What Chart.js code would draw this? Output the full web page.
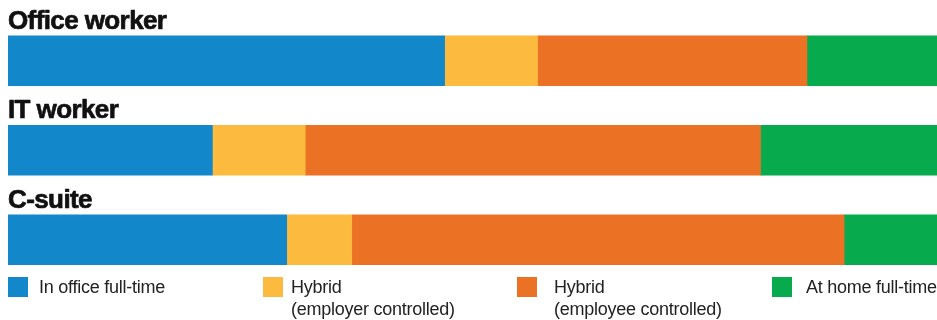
<!DOCTYPE html>
<html>
<head>
<meta charset="utf-8">
<script src="https://cdn.jsdelivr.net/npm/chart.js@4/dist/chart.umd.min.js"></script>
<style>
  html, body { margin: 0; padding: 0; background: #fff; }
  #wrap { position: relative; width: 937px; height: 320px; overflow: hidden; }
  #c { position: absolute; left: 0; top: 0; }
  .sw { position: absolute; top: 277px; width: 20px; height: 20px; }
  .tx { position: absolute; top: 276px; white-space: nowrap; font-family: "Liberation Sans", Arial, sans-serif; font-size: 18px; line-height: 22px; color: #222; letter-spacing: -0.25px; }
</style>
</head>
<body>
<div id="wrap">
  <canvas id="c" width="937" height="320"></canvas>
  <div id="legend"></div>
</div>
<script>
const categories = ["Office worker", "IT worker", "C-suite"];
const seriesNames = [["In office full-time"], ["Hybrid", "(employer controlled)"], ["Hybrid", "(employee controlled)"], ["At home full-time"]];
const inOffice = [47, 22, 30];
const hybridEmployer = [10, 10, 7];
const hybridEmployee = [29, 49, 53];
const atHome = [14, 19, 10];
const colors = ["#1288CB", "#FCBA3E", "#EB7124", "#07AA4C"];
const swatchLefts = [8, 263, 517, 772];
const textLefts = [39, 291, 554, 806];

const seriesValues = [inOffice, hybridEmployer, hybridEmployee, atHome];

const titlePlugin = {
  id: 'barTitles',
  afterDatasetsDraw(chart) {
    const ctx = chart.ctx;
    const meta = chart.getDatasetMeta(0);
    ctx.save();
    ctx.font = 'bold 26px "Liberation Sans", Arial, sans-serif';
    ctx.fillStyle = '#111';
    ctx.strokeStyle = '#111';
    ctx.lineWidth = 0.7;
    ctx.lineJoin = 'round';
    ctx.textBaseline = 'alphabetic';
    ctx.textAlign = 'left';
    if ('letterSpacing' in ctx) ctx.letterSpacing = '-0.6px';
    meta.data.forEach((bar, i) => {
      const top = bar.y - bar.height / 2;
      ctx.fillText(categories[i], chart.chartArea.left, top - 7);
      ctx.strokeText(categories[i], chart.chartArea.left, top - 7);
    });
    ctx.restore();
  }
};

new Chart(document.getElementById('c'), {
  type: 'bar',
  data: {
    labels: categories,
    datasets: seriesValues.map((vals, i) => ({
      label: seriesNames[i].join(' '),
      data: vals,
      backgroundColor: colors[i],
      borderWidth: 0,
      barThickness: 50
    }))
  },
  options: {
    indexAxis: 'y',
    responsive: false,
    animation: false,
    layout: { padding: { left: 8, right: 0, top: 16, bottom: 35.5 } },
    scales: {
      x: { stacked: true, min: 0, max: 100, display: false },
      y: { stacked: true, display: false }
    },
    plugins: {
      legend: { display: false },
      tooltip: { enabled: false }
    }
  },
  plugins: [titlePlugin]
});

const legend = document.getElementById('legend');
seriesNames.forEach((lines, i) => {
  const sw = document.createElement('div');
  sw.className = 'sw';
  sw.style.left = swatchLefts[i] + 'px';
  sw.style.background = colors[i];
  const tx = document.createElement('div');
  tx.className = 'tx';
  tx.style.left = textLefts[i] + 'px';
  tx.innerHTML = lines.join('<br>');
  legend.appendChild(sw);
  legend.appendChild(tx);
});
</script>
</body>
</html>
